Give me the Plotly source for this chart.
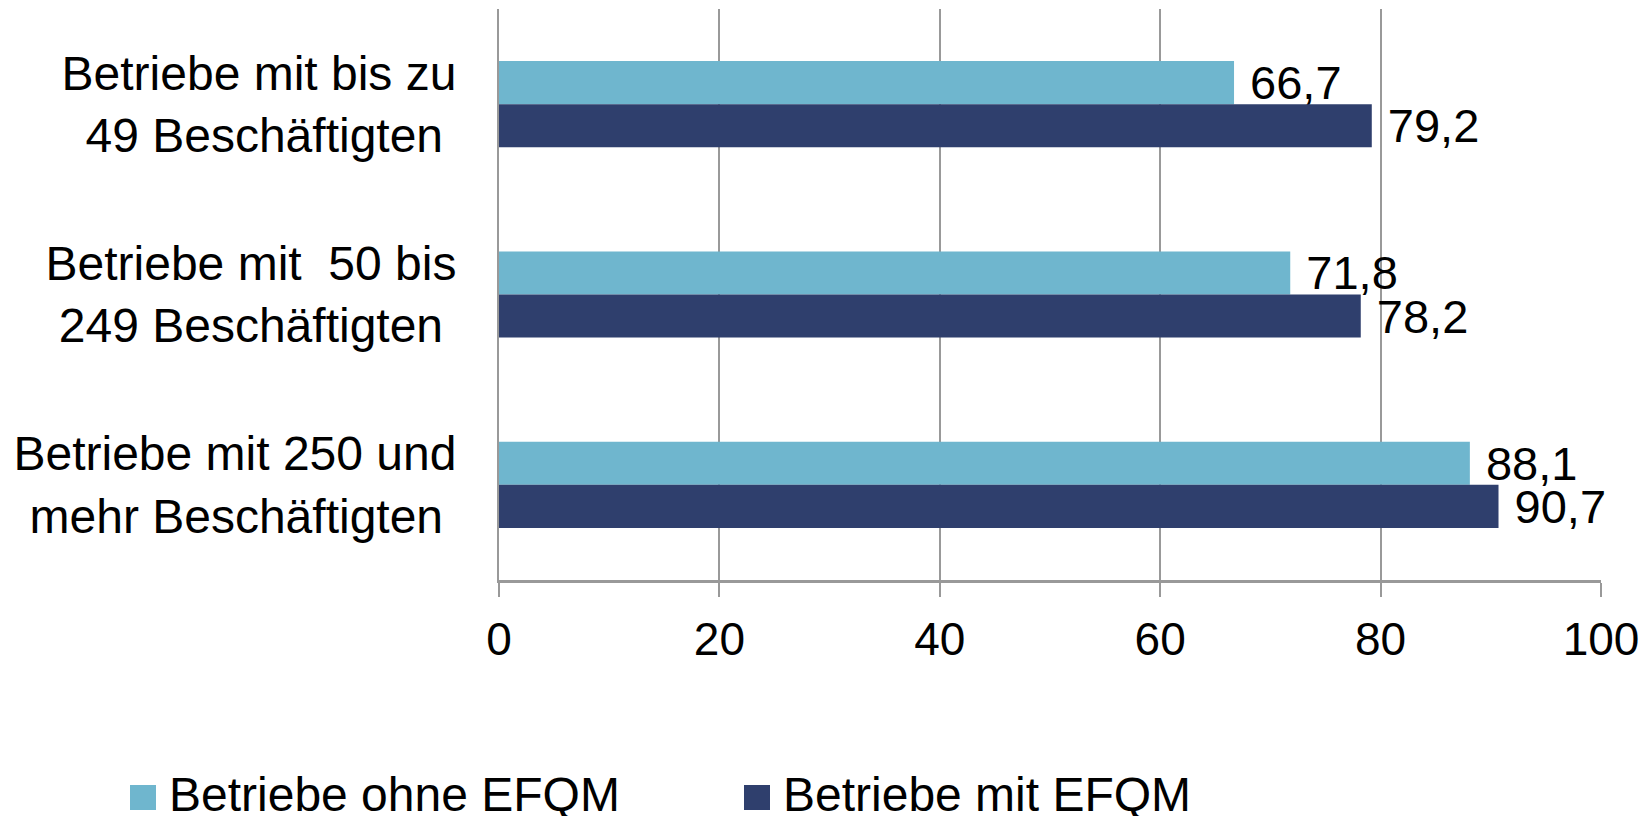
import plotly.graph_objects as go

categories = [
    "Betriebe mit bis zu<br>49 Beschäftigten\u00a0",
    "Betriebe mit\u00a0\u00a050 bis<br>249 Beschäftigten\u00a0",
    "Betriebe mit 250 und<br>mehr Beschäftigten\u00a0",
]
series_names = ["Betriebe ohne EFQM", "Betriebe mit EFQM"]
ohne_efqm = [66.7, 71.8, 88.1]
mit_efqm = [79.2, 78.2, 90.7]
x_ticks = [0, 20, 40, 60, 80, 100]
colors = ["#6FB6CE", "#2F3F6D"]

FONT = "Liberation Sans, Arial, sans-serif"
OFF = 8  # default page body margin
W, H = 1650 - OFF, 816 - OFF
# plot area in page pixels: x 499..1601, y 9..580
L, R, T, B = 499 - OFF, 1650 - 1601, 9 - OFF, 816 - 580
PW, PH = W - L - R, H - T - B


def fmt(v):
    return "\u00a0" + f"{v:.1f}".replace(".", ",")


fig = go.Figure()
for name, vals, col in zip(series_names, [ohne_efqm, mit_efqm], colors):
    fig.add_trace(go.Bar(
        y=categories, x=vals, orientation="h", name=name,
        marker=dict(color=col, line=dict(width=0)),
        text=[fmt(v) for v in vals], textposition="outside",
        textfont=dict(family=FONT, size=47, color="#000000"),
        constraintext="none", cliponaxis=False, showlegend=False,
    ))

fig.update_layout(
    width=W, height=H,
    margin=dict(l=L, r=R, t=T, b=B, pad=0, autoexpand=False),
    paper_bgcolor="white", plot_bgcolor="white",
    barmode="group", bargap=0.547, bargroupgap=0,
    font=dict(family=FONT, size=48, color="#000000"),
    showlegend=False,
    xaxis=dict(
        range=[0, 100], tickvals=x_ticks, ticktext=[str(t) for t in x_ticks],
        showgrid=True, gridcolor="#999999", gridwidth=1.5,
        showline=True, linecolor="#999999", linewidth=2.5,
        ticks="outside", ticklen=14, tickcolor="#999999", tickwidth=1.5,
        zeroline=False, tickfont=dict(family=FONT, size=46),
        ticklabelstandoff=3,
    ),
    yaxis=dict(
        categoryorder="array", categoryarray=categories, autorange="reversed",
        showgrid=False, showline=True, linecolor="#999999", linewidth=2,
        ticks="", zeroline=False, tickfont=dict(family=FONT, size=48),
        ticklabelstandoff=31,
    ),
)


def px_x(p):
    return (p - OFF - L) / PW


def px_y(p):
    return (H - B - (p - OFF)) / PH


legend_items = [(130, 168), (744, 782)]
for (sx, tx), name, col in zip(legend_items, series_names, colors):
    fig.add_shape(type="rect", xref="paper", yref="paper",
                  x0=px_x(sx), x1=px_x(sx + 26), y0=px_y(785), y1=px_y(810),
                  fillcolor=col, line=dict(width=0))
    fig.add_annotation(xref="paper", yref="paper", x=px_x(tx), y=px_y(794),
                       xanchor="left", yanchor="middle", text=name,
                       showarrow=False, font=dict(family=FONT, size=48, color="#000000"),
                       borderpad=0)

fig.write_html("out.html")
